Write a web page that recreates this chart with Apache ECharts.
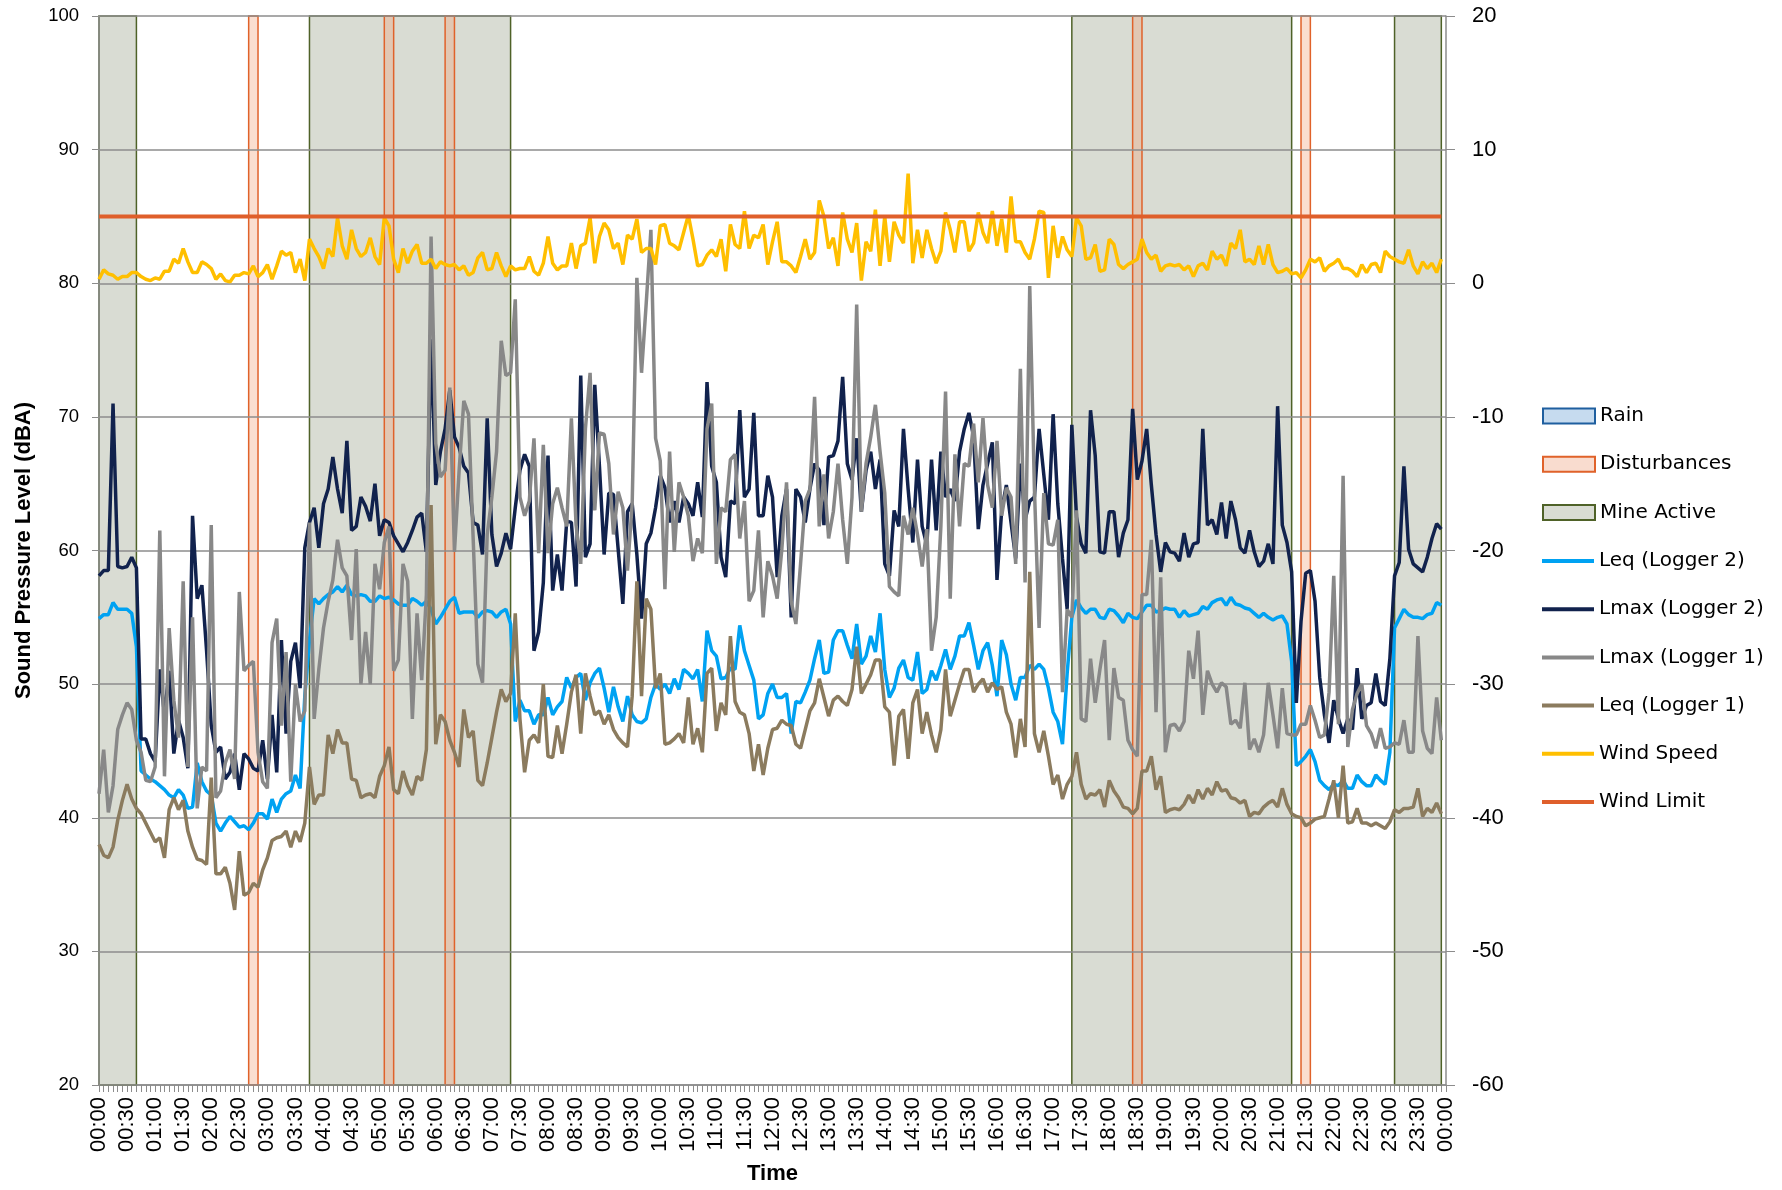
<!DOCTYPE html>
<html>
<head>
<meta charset="utf-8">
<title>Sound Pressure Level</title>
<script src="https://cdn.jsdelivr.net/npm/echarts@6/dist/echarts.min.js"></script>
<style>
  html, body { margin: 0; padding: 0; background: #fff; }
  #chart { width: 1782px; height: 1190px; }
</style>
</head>
<body>
<div id="chart"></div>
<script>
// 5 minute intervals, 00:00 .. 00:00 next day
var times = [];
for (var m = 0; m <= 1440; m += 5) {
    var h = Math.floor(m / 60) % 24, mm = m % 60;
    times.push((h < 10 ? '0' : '') + h + ':' + (mm < 10 ? '0' : '') + mm);
}

var leqLogger2 = [
    54.9, 55.2, 55.2, 56.1, 55.6, 55.6, 55.6, 55.3, 52.8, 43.5,
    43.2, 42.9, 42.7, 42.4, 42.1, 41.7, 41.5, 42.1, 41.7, 40.7,
    40.8, 44.1, 42.7, 42.0, 41.7, 39.6, 39.0, 39.6, 40.1, 39.7,
    39.3, 39.4, 39.1, 39.6, 40.3, 40.3, 39.9, 41.4, 40.4, 41.4,
    41.8, 42.0, 43.2, 42.2, 49.1, 53.3, 56.4, 56.0, 56.4, 56.7,
    56.9, 57.3, 56.9, 57.4, 56.7, 56.6, 56.7, 56.6, 56.2, 56.2,
    56.6, 56.4, 56.5, 56.3, 56.0, 55.9, 55.9, 56.4, 56.2, 55.9,
    56.2, 55.6, 54.5, 55.0, 55.6, 56.2, 56.5, 55.3, 55.4, 55.4,
    55.4, 55.0, 55.4, 55.5, 55.4, 55.0, 55.4, 55.6, 54.5, 47.2,
    48.8, 48.0, 48.0, 47.0, 47.7, 47.7, 49.0, 47.7, 48.3, 48.7,
    50.5, 49.7, 50.5, 50.8, 48.8, 50.1, 50.8, 51.2, 49.7, 47.9,
    49.8, 48.3, 47.2, 49.1, 47.7, 47.2, 47.1, 47.4, 49.0, 50.0,
    49.6, 50.0, 49.3, 50.4, 49.6, 51.1, 50.8, 50.4, 51.1, 48.7,
    54.0, 52.5, 52.1, 50.4, 50.5, 51.2, 51.1, 54.4, 52.5, 51.4,
    50.3, 47.4, 47.7, 49.3, 50.0, 49.0, 49.0, 49.3, 46.3, 48.7,
    48.6, 49.4, 50.3, 51.9, 53.3, 50.8, 50.9, 53.3, 54.0, 54.0,
    52.9, 51.9, 54.5, 51.5, 52.1, 53.6, 52.4, 55.3, 51.1, 49.0,
    49.7, 51.2, 51.8, 50.5, 50.3, 52.4, 49.3, 49.6, 51.0, 50.3,
    51.4, 52.6, 51.1, 52.1, 53.6, 53.6, 54.6, 52.9, 51.1, 52.5,
    53.1, 51.4, 49.1, 53.3, 52.2, 50.0, 48.8, 50.5, 50.5, 51.4,
    51.1, 51.5, 51.1, 49.7, 47.9, 47.2, 45.5, 50.8, 55.0, 56.3,
    55.7, 55.3, 55.6, 55.6, 55.0, 54.9, 55.6, 55.5, 55.1, 54.6,
    55.3, 55.0, 54.9, 55.4, 55.9, 55.9, 55.4, 55.5, 55.7, 55.6,
    55.6, 55.0, 55.5, 55.1, 55.2, 55.3, 55.8, 55.6, 56.1, 56.3,
    56.4, 55.9, 56.5, 56.0, 55.9, 55.7, 55.6, 55.3, 55.0, 55.3,
    55.0, 54.8, 55.0, 55.1, 54.5, 51.7, 43.9, 44.2, 44.6, 45.1,
    44.2, 42.8, 42.4, 42.1, 42.5, 42.4, 42.8, 42.2, 42.2, 43.2,
    42.7, 42.4, 42.4, 43.2, 42.8, 42.5, 44.9, 54.2, 54.9, 55.6,
    55.2, 55.0, 55.0, 54.9, 55.2, 55.3, 56.1, 55.9
];

var lmaxLogger2 = [
    58.1, 58.5, 58.5, 71.0, 58.8, 58.7, 58.8, 59.5, 58.7, 45.9,
    45.9, 44.8, 44.2, 51.1, 47.7, 51.0, 44.8, 47.3, 46.0, 43.7,
    62.6, 56.4, 57.4, 52.5, 46.9, 44.9, 45.3, 42.9, 43.4, 44.8,
    42.1, 44.8, 44.4, 43.7, 43.5, 45.8, 42.9, 47.7, 43.4, 53.3,
    46.3, 51.7, 53.1, 49.7, 60.2, 62.1, 63.2, 60.2, 63.5, 64.6,
    67.0, 64.6, 62.8, 68.2, 61.5, 61.8, 64.0, 63.3, 62.2, 65.0,
    61.1, 62.3, 62.1, 61.1, 60.5, 59.9, 60.6, 61.5, 62.5, 62.8,
    59.9, 75.8, 64.9, 67.4, 69.1, 72.0, 68.5, 67.7, 66.3, 65.8,
    62.1, 61.9, 59.7, 69.9, 61.2, 58.8, 59.8, 61.3, 60.1, 63.2,
    66.0, 67.2, 66.3, 52.5, 53.9, 57.6, 67.1, 57.0, 59.7, 57.0,
    62.2, 62.1, 57.3, 73.1, 59.5, 60.5, 72.4, 66.3, 59.7, 64.3,
    64.2, 60.1, 56.0, 62.9, 63.5, 59.7, 54.9, 60.5, 61.3, 63.2,
    65.6, 64.7, 62.1, 63.7, 62.1, 64.0, 63.5, 62.6, 65.1, 62.5,
    72.6, 66.3, 65.1, 59.5, 58.0, 63.7, 63.5, 70.5, 64.0, 64.6,
    70.3, 62.6, 62.6, 65.6, 64.0, 58.0, 62.6, 64.6, 55.0, 64.6,
    64.0, 62.1, 64.6, 66.5, 66.0, 61.9, 67.0, 67.1, 68.2, 73.0,
    66.5, 65.3, 68.4, 62.9, 66.0, 67.4, 64.6, 66.8, 59.0, 58.1,
    63.0, 61.8, 69.1, 64.6, 60.6, 66.8, 61.8, 60.4, 66.8, 61.5,
    67.4, 64.0, 64.6, 63.7, 67.4, 69.1, 70.3, 68.5, 61.6, 64.9,
    66.5, 68.1, 57.8, 63.0, 64.9, 62.1, 59.4, 66.5, 62.3, 63.7,
    64.0, 69.1, 65.7, 62.3, 70.2, 63.5, 59.4, 55.6, 69.4, 62.5,
    60.5, 59.8, 70.5, 67.1, 59.9, 59.8, 62.9, 62.9, 59.5, 61.3,
    62.3, 70.6, 65.3, 66.7, 69.1, 64.9, 61.2, 58.4, 60.6, 59.9,
    59.8, 59.2, 61.3, 59.5, 60.5, 60.6, 69.1, 61.9, 62.3, 61.2,
    63.6, 60.9, 63.7, 62.3, 60.2, 59.8, 61.5, 59.9, 58.8, 59.2,
    60.5, 59.0, 70.8, 61.9, 60.6, 58.4, 48.6, 54.7, 58.3, 58.5,
    56.2, 50.5, 47.7, 45.6, 48.8, 47.4, 46.3, 47.4, 46.6, 51.2,
    47.4, 48.4, 48.6, 50.8, 48.7, 48.4, 51.9, 58.1, 59.1, 66.3,
    60.1, 59.0, 58.7, 58.4, 59.5, 60.9, 62.0, 61.6
];

var lmaxLogger1 = [
    41.8, 45.1, 40.4, 42.4, 46.6, 47.7, 48.6, 48.1, 45.8, 44.9,
    42.8, 42.7, 43.8, 61.5, 43.1, 54.2, 48.8, 46.0, 57.7, 43.8,
    55.0, 40.7, 43.8, 43.5, 61.9, 41.5, 42.0, 44.1, 45.1, 42.9,
    56.9, 51.0, 51.4, 51.7, 44.9, 42.7, 42.2, 53.1, 54.9, 46.9,
    52.4, 42.7, 50.0, 47.2, 48.0, 62.1, 47.4, 51.1, 54.2, 56.2,
    57.8, 60.8, 58.7, 58.1, 53.3, 60.1, 50.0, 53.9, 50.0, 59.0,
    57.1, 60.6, 61.8, 51.0, 51.8, 59.0, 57.7, 47.4, 55.3, 50.3,
    56.7, 83.5, 68.0, 65.5, 66.0, 72.2, 59.9, 66.0, 71.2, 70.2,
    60.9, 51.5, 50.1, 61.2, 64.0, 67.4, 75.7, 73.1, 73.3, 78.8,
    64.0, 62.6, 63.7, 68.4, 59.8, 67.9, 59.8, 63.5, 64.7, 63.2,
    61.8, 69.9, 61.9, 59.0, 69.1, 73.3, 63.0, 68.8, 68.7, 66.5,
    61.2, 64.4, 63.2, 58.5, 63.5, 80.4, 73.3, 78.5, 84.0, 68.4,
    66.7, 57.1, 67.4, 59.9, 65.1, 64.0, 62.6, 59.2, 60.9, 59.8,
    69.1, 71.0, 59.0, 63.2, 62.9, 66.8, 67.2, 60.9, 63.7, 56.2,
    57.0, 61.5, 55.0, 59.2, 58.1, 56.4, 60.1, 65.1, 56.2, 54.5,
    59.0, 63.7, 64.6, 71.5, 61.8, 65.7, 60.9, 62.9, 66.5, 62.3,
    59.0, 64.0, 78.4, 62.9, 66.5, 68.5, 70.9, 67.4, 64.3, 57.3,
    56.9, 56.6, 62.6, 61.2, 63.2, 61.2, 58.8, 61.6, 52.5, 55.0,
    61.8, 71.9, 56.4, 67.2, 61.8, 66.5, 66.3, 69.5, 65.1, 69.9,
    64.9, 63.2, 68.2, 62.6, 64.7, 64.0, 59.0, 73.6, 57.6, 79.8,
    64.6, 54.2, 64.3, 60.5, 60.4, 62.3, 49.4, 55.6, 55.0, 63.0,
    47.4, 47.2, 51.9, 48.6, 51.1, 53.3, 45.8, 51.2, 49.0, 48.8,
    45.8, 45.1, 44.6, 56.7, 56.7, 60.8, 47.9, 58.0, 44.9, 46.9,
    47.0, 46.5, 47.2, 52.5, 50.4, 54.0, 47.7, 51.0, 50.0, 49.4,
    50.1, 49.8, 47.0, 47.3, 46.7, 50.1, 45.1, 45.9, 44.9, 46.2,
    50.1, 47.7, 45.2, 49.7, 46.3, 46.2, 46.2, 47.0, 47.0, 48.4,
    47.3, 46.0, 46.2, 49.4, 58.1, 47.0, 65.6, 45.3, 48.1, 49.3,
    50.0, 46.9, 46.3, 45.2, 46.7, 45.2, 45.3, 45.6, 45.5, 47.3,
    44.9, 44.9, 53.6, 46.5, 45.2, 44.8, 49.0, 45.8
];

var leqLogger1 = [
    38.0, 37.2, 37.0, 37.8, 39.8, 41.3, 42.5, 41.4, 40.7, 40.3,
    39.6, 38.9, 38.2, 38.5, 37.0, 40.6, 41.5, 40.6, 41.3, 39.0,
    37.8, 36.9, 36.8, 36.5, 43.0, 35.8, 35.8, 36.3, 35.1, 33.1,
    37.5, 34.2, 34.4, 35.1, 34.8, 36.1, 37.0, 38.3, 38.5, 38.6,
    39.0, 37.8, 39.0, 38.2, 39.6, 43.8, 41.0, 41.7, 41.7, 46.2,
    44.8, 46.6, 45.6, 45.6, 42.9, 42.8, 41.5, 41.7, 41.8, 41.5,
    43.1, 43.9, 45.3, 42.1, 41.8, 43.5, 42.4, 41.7, 43.1, 42.8,
    45.1, 63.4, 45.5, 47.7, 47.2, 45.8, 44.9, 43.8, 48.1, 46.0,
    46.5, 42.8, 42.4, 44.1, 46.0, 47.9, 49.6, 48.7, 49.3, 55.3,
    47.4, 43.4, 45.8, 46.2, 45.6, 50.0, 44.6, 44.5, 46.9, 44.8,
    47.0, 49.4, 50.7, 46.3, 50.8, 49.1, 47.7, 48.0, 47.0, 47.7,
    46.6, 46.0, 45.6, 45.3, 49.1, 57.7, 49.1, 56.4, 55.6, 49.7,
    50.8, 45.5, 45.6, 45.9, 46.3, 45.6, 49.0, 45.5, 46.7, 44.9,
    50.8, 51.2, 46.5, 48.6, 47.7, 53.6, 48.7, 47.9, 47.7, 46.3,
    43.5, 45.5, 43.2, 45.2, 46.6, 46.7, 47.3, 47.0, 46.9, 45.5,
    45.2, 46.6, 48.0, 48.6, 50.4, 49.0, 47.6, 48.8, 49.1, 48.7,
    48.4, 49.6, 52.8, 49.3, 50.0, 50.7, 51.8, 51.8, 48.3, 47.9,
    43.9, 47.6, 48.1, 44.4, 48.6, 49.6, 46.3, 47.9, 46.2, 44.9,
    46.6, 51.1, 47.6, 48.8, 50.0, 51.1, 51.1, 49.4, 50.0, 50.4,
    49.4, 50.1, 49.6, 49.8, 47.9, 47.0, 44.5, 47.4, 45.3, 58.4,
    46.3, 44.9, 46.5, 44.6, 42.5, 43.2, 41.4, 42.5, 43.1, 44.9,
    42.5, 41.4, 41.8, 41.7, 42.1, 40.8, 42.8, 42.0, 41.5, 40.8,
    40.7, 40.3, 40.7, 43.5, 43.5, 44.6, 42.1, 43.1, 40.4, 40.6,
    40.7, 40.6, 41.0, 41.7, 41.1, 42.1, 41.4, 42.2, 41.7, 42.7,
    42.0, 42.1, 41.5, 41.4, 41.1, 41.3, 40.1, 40.4, 40.3, 40.8,
    41.1, 41.3, 40.8, 42.2, 41.0, 40.3, 40.1, 40.0, 39.4, 39.6,
    39.9, 40.0, 40.1, 41.4, 42.8, 40.0, 43.9, 39.6, 39.7, 40.7,
    39.6, 39.6, 39.4, 39.6, 39.4, 39.2, 39.7, 40.6, 40.4, 40.7,
    40.7, 40.8, 42.2, 40.1, 40.7, 40.4, 41.1, 40.3
];

// right axis (m/s)
var windSpeed = [
    0.3, 1.0, 0.7, 0.6, 0.3, 0.5, 0.5, 0.8, 0.8, 0.5,
    0.3, 0.2, 0.4, 0.3, 0.9, 0.9, 1.8, 1.5, 2.6, 1.6,
    0.8, 0.8, 1.6, 1.4, 1.1, 0.3, 0.7, 0.2, 0.1, 0.6,
    0.6, 0.8, 0.7, 1.3, 0.5, 0.8, 1.4, 0.3, 1.3, 2.4,
    2.1, 2.3, 0.8, 1.8, 0.2, 3.3, 2.6, 2.0, 1.1, 2.6,
    2.0, 4.9, 2.8, 1.8, 4.0, 2.6, 2.0, 2.3, 3.4, 2.0,
    1.4, 4.9, 4.3, 1.8, 0.8, 2.6, 1.5, 2.4, 2.9, 1.5,
    1.5, 1.8, 1.1, 1.6, 1.4, 1.3, 1.4, 1.0, 1.3, 0.6,
    0.8, 1.9, 2.3, 1.0, 1.1, 2.3, 1.3, 0.5, 1.3, 1.0,
    1.1, 1.1, 2.0, 0.9, 0.6, 1.5, 3.5, 1.5, 1.0, 1.3,
    1.3, 3.0, 1.1, 2.8, 3.0, 4.9, 1.5, 3.5, 4.5, 4.0,
    2.6, 3.0, 1.4, 3.6, 3.3, 4.8, 2.3, 2.6, 2.6, 1.4,
    4.3, 4.4, 3.0, 2.8, 2.5, 3.8, 5.1, 3.3, 1.3, 1.4,
    2.1, 2.5, 2.0, 3.3, 0.9, 4.4, 2.9, 2.6, 5.4, 2.6,
    3.6, 3.4, 4.4, 1.4, 3.1, 4.6, 1.6, 1.6, 1.3, 0.8,
    2.0, 3.3, 1.8, 2.3, 6.2, 5.0, 2.6, 3.4, 1.3, 5.3,
    3.3, 2.3, 4.5, 0.2, 3.1, 2.4, 5.5, 1.3, 5.0, 1.6,
    4.6, 3.6, 3.0, 8.2, 1.5, 4.0, 1.9, 4.0, 2.6, 1.5,
    2.4, 5.3, 4.0, 2.3, 4.6, 4.6, 2.4, 3.0, 5.3, 3.8,
    3.0, 5.4, 2.8, 4.8, 2.3, 6.5, 3.1, 3.1, 2.3, 1.8,
    3.3, 5.4, 5.3, 0.4, 4.3, 1.9, 3.5, 2.5, 2.0, 4.9,
    4.3, 1.8, 1.9, 2.9, 0.9, 1.0, 3.3, 2.9, 1.4, 1.1,
    1.4, 1.6, 1.8, 3.3, 2.3, 1.8, 2.1, 0.9, 1.3, 1.4,
    1.3, 1.4, 1.0, 1.3, 0.5, 1.3, 1.5, 1.0, 2.4, 1.8,
    2.1, 1.3, 3.0, 2.6, 4.0, 1.6, 1.8, 1.4, 2.8, 1.4,
    2.9, 1.4, 0.8, 0.9, 1.1, 0.7, 0.8, 0.4, 1.0, 1.8,
    1.6, 1.9, 0.9, 1.3, 1.5, 1.8, 1.1, 1.1, 0.9, 0.5,
    1.4, 0.8, 1.4, 1.5, 0.8, 2.4, 2.0, 1.8, 1.6, 1.5,
    2.5, 1.3, 0.7, 1.6, 1.1, 1.5, 0.8, 1.8
];

var windLimit = 5;
var windLimitSpan = [0, 287];

// shaded periods, as [first, last] time index
var mineActive = [[0, 8], [45, 88], [208, 255], [277, 287]];
var disturbances = [[32, 34], [61, 63], [74, 76], [221, 223], [257, 259]];

var GREY = '#8c8c8c';

function toAreas(list) {
    return list.map(function (p) { return [{ xAxis: p[0] }, { xAxis: p[1] }]; });
}

var chart = echarts.init(document.getElementById('chart'));

var option = {
    animation: false,
    backgroundColor: '#ffffff',
    grid: { left: 99, right: 336, top: 16, bottom: 102, containLabel: false },
    legend: [{
        orient: 'vertical',
        left: 1537,
        top: 399,
        itemWidth: 52,
        itemHeight: 15,
        itemGap: 24.2,
        selectedMode: false,
        textStyle: { fontFamily: 'DejaVu Sans', fontSize: 20, lineHeight: 24, color: '#000' },
        data: [
            { name: 'Rain', icon: 'rect', itemStyle: { color: '#c6dbef', borderColor: '#1f5f9f', borderWidth: 2 } },
            { name: 'Disturbances', icon: 'rect', itemStyle: { color: '#f9dccf', borderColor: '#e0622a', borderWidth: 2 } },
            { name: 'Mine Active', icon: 'rect', itemStyle: { color: '#d9dcd3', borderColor: '#4f6228', borderWidth: 2 } }
        ]
    }, {
        orient: 'vertical',
        left: 1537,
        top: 544,
        itemWidth: 52,
        itemHeight: 4,
        itemGap: 24.2,
        selectedMode: false,
        textStyle: { fontFamily: 'DejaVu Sans', fontSize: 20, lineHeight: 24, color: '#000' },
        data: [
            { name: 'Leq (Logger 2)', icon: 'rect' },
            { name: 'Lmax (Logger 2)', icon: 'rect' },
            { name: 'Lmax (Logger 1)', icon: 'rect' },
            { name: 'Leq (Logger 1)', icon: 'rect' },
            { name: 'Wind Speed', icon: 'rect' },
            { name: 'Wind Limit', icon: 'rect' }
        ]
    }],
    xAxis: {
        type: 'category',
        boundaryGap: false,
        data: times,
        name: 'Time',
        nameLocation: 'middle',
        nameGap: 78,
        nameTextStyle: { fontFamily: 'Liberation Sans', fontWeight: 'bold', fontSize: 22, color: '#000' },
        axisLine: { onZero: false, lineStyle: { color: GREY, width: 1.5 } },
        axisTick: { interval: 0, length: 7, lineStyle: { color: GREY } },
        axisLabel: {
            interval: 5,
            rotate: 90,
            margin: 12,
            fontFamily: 'Liberation Sans Narrow, Liberation Sans',
            fontSize: 22,
            color: '#000'
        },
        splitLine: { show: false }
    },
    yAxis: [{
        type: 'value',
        min: 20,
        max: 100,
        interval: 10,
        z: 1.5,
        name: 'Sound Pressure Level (dBA)',
        nameLocation: 'middle',
        nameGap: 64,
        nameTextStyle: { fontFamily: 'Liberation Sans', fontWeight: 'bold', fontSize: 22, color: '#000' },
        axisLine: { show: true, lineStyle: { color: GREY, width: 1.5 } },
        axisTick: { show: true, length: 7, lineStyle: { color: GREY } },
        axisLabel: { margin: 20, fontFamily: 'Liberation Sans', fontSize: 18.5, color: '#000' },
        splitLine: { lineStyle: { color: GREY, width: 1.5 } }
    }, {
        type: 'value',
        position: 'right',
        min: -60,
        max: 20,
        interval: 10,
        z: 1.5,
        axisLine: { show: true, lineStyle: { color: GREY, width: 1.5 } },
        axisTick: { show: true, length: 9, lineStyle: { color: GREY } },
        axisLabel: { margin: 26, fontFamily: 'Liberation Sans', fontSize: 22, color: '#000' },
        splitLine: { show: false }
    }],
    series: [{
        name: 'Rain',
        type: 'line',
        data: [],
        color: '#c6dbef'
    }, {
        name: 'Mine Active',
        type: 'line',
        data: [],
        color: '#d9dcd3',
        markArea: {
            silent: true,
            z: 1,
            itemStyle: { color: '#d9dcd3', borderColor: '#4f6228', borderWidth: 1.5 },
            data: toAreas(mineActive)
        }
    }, {
        name: 'Disturbances',
        type: 'line',
        data: [],
        color: '#f9dccf',
        markArea: {
            silent: true,
            z: 1.1,
            itemStyle: { color: 'rgba(240,160,120,0.35)', borderColor: '#e0622a', borderWidth: 1.5 },
            data: toAreas(disturbances)
        }
    }, {
        name: 'Leq (Logger 2)',
        type: 'line',
        data: leqLogger2,
        color: '#00a2f2',
        symbol: 'none',
        z: 3,
        lineStyle: { width: 3.5 }
    }, {
        name: 'Lmax (Logger 2)',
        type: 'line',
        data: lmaxLogger2,
        color: '#11224d',
        symbol: 'none',
        z: 3,
        lineStyle: { width: 3.5 }
    }, {
        name: 'Lmax (Logger 1)',
        type: 'line',
        data: lmaxLogger1,
        color: '#888888',
        symbol: 'none',
        z: 3,
        lineStyle: { width: 3.5 }
    }, {
        name: 'Leq (Logger 1)',
        type: 'line',
        data: leqLogger1,
        color: '#8b7b5e',
        symbol: 'none',
        z: 3,
        lineStyle: { width: 3.5 }
    }, {
        name: 'Wind Speed',
        type: 'line',
        yAxisIndex: 1,
        data: windSpeed,
        color: '#ffbf00',
        symbol: 'none',
        z: 3,
        lineStyle: { width: 3.5 }
    }, {
        name: 'Wind Limit',
        type: 'line',
        yAxisIndex: 1,
        data: [[windLimitSpan[0], windLimit], [windLimitSpan[1], windLimit]],
        color: '#df5f2b',
        symbol: 'none',
        z: 3,
        lineStyle: { width: 4 }
    }]
};

chart.setOption(option);
</script>
</body>
</html>
